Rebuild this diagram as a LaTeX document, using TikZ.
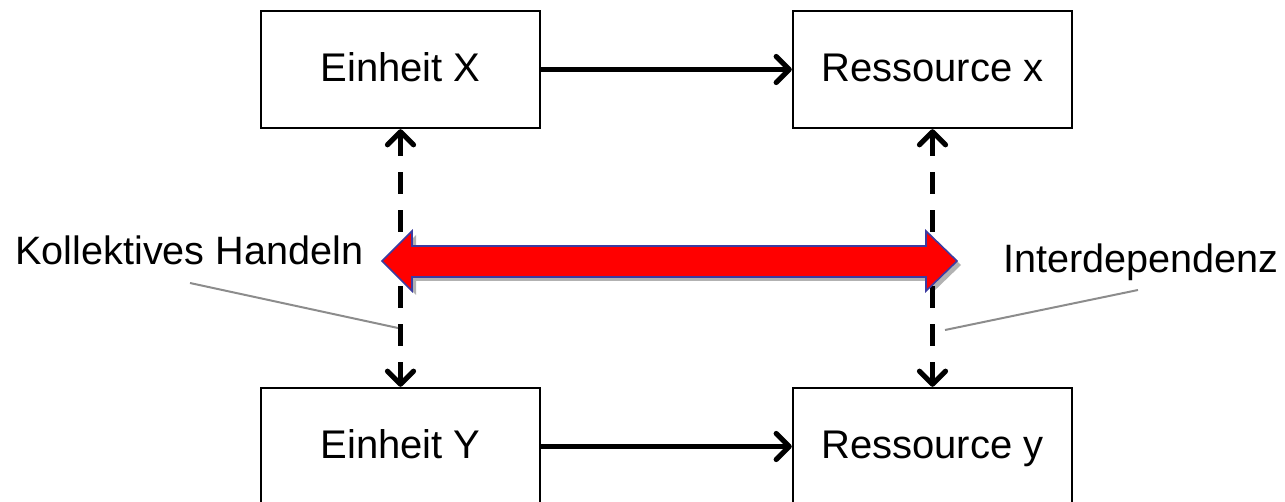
\documentclass[tikz,border=0pt]{standalone}
\usepackage{fontspec}
\setmainfont{Liberation Sans}
\usetikzlibrary{arrows.meta,shadows}
\tikzset{mytip/.tip={Straight Barb[length=6.5pt,width=13pt,line width=2.6pt,round]}}
\begin{document}
\begin{tikzpicture}[x=0.5pt,y=-0.5pt,
  box/.style={draw=black,line width=1.2pt,fill=white,minimum width=139.5pt,minimum height=58.5pt,inner sep=0pt,text height=15pt,text depth=3pt,font=\fontsize{20}{24}\selectfont},
  lbl/.style={inner sep=0pt,font=\fontsize{19.8}{24}\selectfont},
  solidarrow/.style={line width=2.5pt,-{mytip}},
  dasharrow/.style={line width=2.5pt,dash pattern=on 11pt off 8pt,{mytip}-{mytip}},
  callout/.style={draw=gray!90,line width=1pt}
]
\useasboundingbox (0,0) rectangle (1285,502);
\clip (0,0) rectangle (1285,502);
\node[box] (ex) at (400.5,69.5) {Einheit X};
\node[box] (rx) at (932.5,69.5) {Ressource x};
\node[box] (ey) at (400.5,446.5) {Einheit Y};
\node[box] (ry) at (932.5,446.5) {Ressource y};
\draw[solidarrow] (ex.east) -- (rx.west);
\draw[solidarrow] (ey.east) -- (ry.west);
\draw[dasharrow] (ex.south) -- (ey.north);
\draw[dasharrow] (rx.south) -- (ry.north);
\draw[fill=red,draw={rgb,255:red,60;green,60;blue,160},line width=0.8pt,line join=miter,
  drop shadow={shadow xshift=2pt,shadow yshift=-2pt,opacity=0.3,fill=black}]
  (382,261) -- (412,231) -- (412,246) -- (926,246) -- (926,231) -- (957,261)
  -- (926,291) -- (926,277) -- (412,277) -- (412,291) -- cycle;
\node[lbl,anchor=base west] (kh) at (15,265) {Kollektives Handeln};
\node[lbl,anchor=base west] (id) at (1003,272) {Interdependenz};
\coordinate (khs) at (190,283);
\coordinate (khe) at (398,328);
\coordinate (ids) at (1138,290);
\coordinate (ide) at (945,330);
\draw[callout] (khs) -- (khe);
\draw[callout] (ids) -- (ide);
\end{tikzpicture}
\end{document}
